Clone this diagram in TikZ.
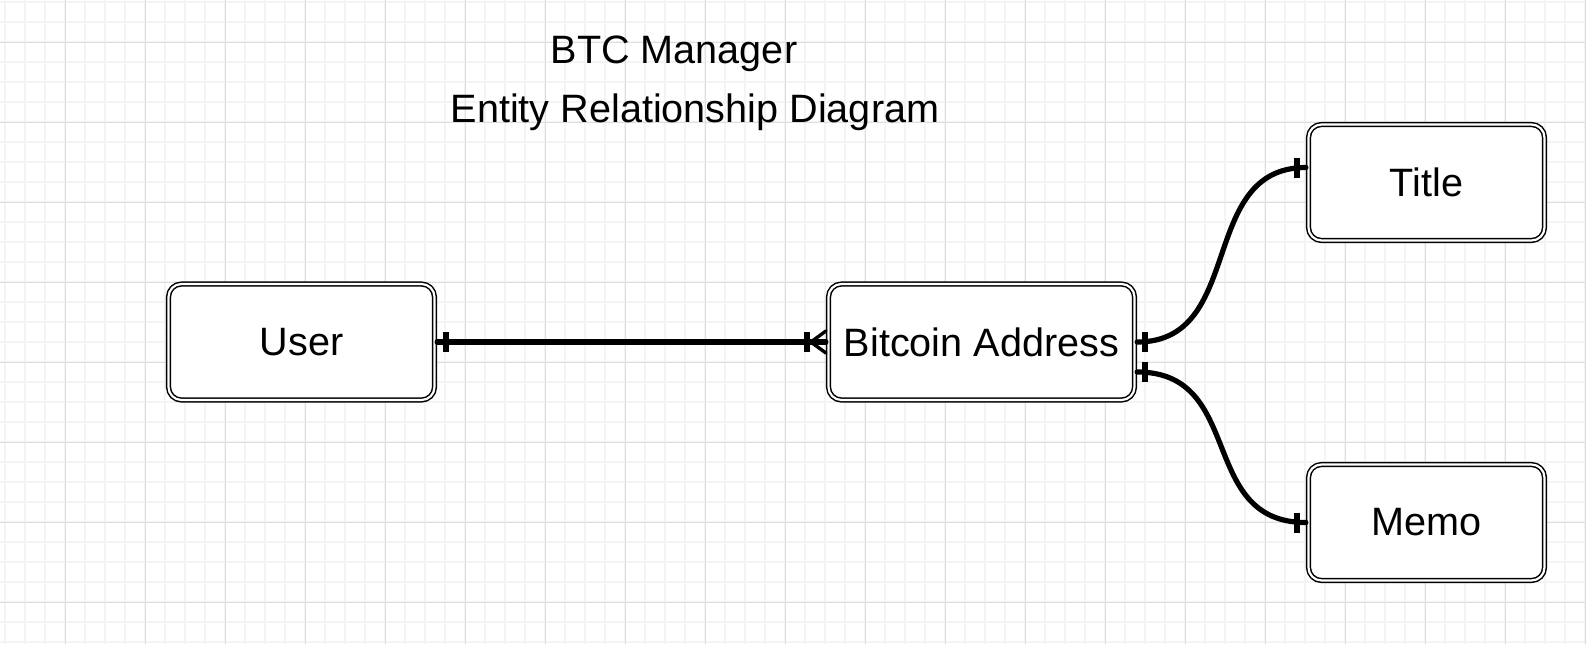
\documentclass[tikz,border=0pt]{standalone}
\usepackage{fontspec}
\setmainfont{Liberation Sans}
\usepackage{xcolor}
\usepackage{tikz}
\usetikzlibrary{calc}
\definecolor{gridminor}{HTML}{F4F4F4}
\definecolor{gridmajor}{HTML}{DEDEDE}
\definecolor{ink}{HTML}{000000}
\newcommand\erfont{\fontsize{19.8}{23}\selectfont}
\tikzset{
    every picture/.style={line cap=round,line join=round},
    minorline/.style={draw=gridminor,line width=1pt,line cap=butt},
    majorline/.style={draw=gridmajor,line width=0.5pt,line cap=butt},
    entity/.style={draw=ink,fill=white,double=white,double distance=1.1pt,
      line width=0.75pt,rounded corners=6.5pt,outer sep=1.3pt,
      minimum height=58pt,inner sep=2pt,font=\erfont,align=center},
    headline/.style={anchor=base,inner sep=0pt,font=\erfont,text=ink},
    relline/.style={draw=ink,line width=2.6pt},
    erbar/.style={draw=ink,line width=2.9pt,line cap=butt},
    crowline/.style={draw=ink,line width=1.7pt}
}

\begin{document}
\begin{tikzpicture}[x=0.5pt,y=-0.5pt]
  \useasboundingbox (0,0) rectangle (1586,644);
  % grid
  \foreach \gx in {5,25,...,1585} \draw[minorline] (\gx,0) -- (\gx,644);
  \foreach \gy in {2,22,...,642} \draw[minorline] (0,\gy) -- (1586,\gy);
  \foreach \gx in {65,145,...,1585} \draw[majorline] (\gx,0) -- (\gx,644);
  \foreach \gy in {42,122,...,602} \draw[majorline] (0,\gy) -- (1586,\gy);

  % heading
  \node[headline] (head1) at (674,63) {BTC Manager};
  \node[headline] (head2) at (695,122) {Entity Relationship Diagram};

  % entities
  \node[entity,minimum width=133pt] (user) at (301.5,342) {User};
  \node[entity,minimum width=153pt] (addr) at (981.5,342) {Bitcoin Address};
  \node[entity,minimum width=118pt] (title) at (1426.5,182.5) {Title};
  \node[entity,minimum width=118pt] (memo) at (1426.5,522.5) {Memo};

  % user -- address: one to many
  \draw[relline] (user.east) -- (addr.west);
  \draw[erbar] ($(user.east)+(9,-10)$) -- ($(user.east)+(9,10)$);
  \draw[erbar] ($(addr.west)+(-19,-10)$) -- ($(addr.west)+(-19,10)$);
  \draw[crowline] ($(addr.west)+(0,-11)$) -- ($(addr.west)+(-15,0)$)
    -- ($(addr.west)+(0,11)$);

  % address -- title: one to one
  \coordinate (tin) at ($(title.west)+(0,-15)$);
  \draw[relline] (addr.east) .. controls +(109,0) and +(-109,0) .. (tin);
  \draw[erbar] ($(addr.east)+(8,-10)$) -- ($(addr.east)+(8,10)$);
  \draw[erbar] ($(tin)+(-9,-10)$) -- ($(tin)+(-9,10)$);

  % address -- memo: one to one
  \coordinate (mout) at ($(addr.east)+(0,30)$);
  \draw[relline] (mout) .. controls +(109,0) and +(-109,0) .. (memo.west);
  \draw[erbar] ($(mout)+(8,-10)$) -- ($(mout)+(8,10)$);
  \draw[erbar] ($(memo.west)+(-9,-10)$) -- ($(memo.west)+(-9,10)$);
\end{tikzpicture}
\end{document}
